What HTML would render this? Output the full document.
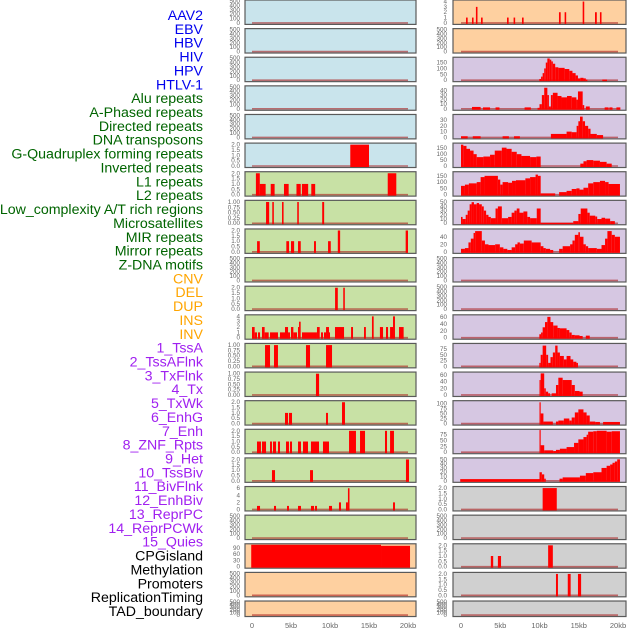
<!DOCTYPE html>
<html><head><meta charset="utf-8"><style>
html,body{margin:0;padding:0;background:#fff;}
svg{display:block;font-family:"Liberation Sans",sans-serif;}
</style></head><body>
<svg id="chart" width="630" height="630" viewBox="0 0 630 630" xmlns="http://www.w3.org/2000/svg"></svg>
<script>
const trackLabels = ["AAV2","EBV","HBV","HIV","HPV","HTLV-1","Alu repeats","A-Phased repeats","Directed repeats","DNA transposons","G-Quadruplex forming repeats","Inverted repeats","L1 repeats","L2 repeats","Low_complexity A/T rich regions","Microsatellites","MIR repeats","Mirror repeats","Z-DNA motifs","CNV","DEL","DUP","INS","INV","1_TssA","2_TssAFlnk","3_TxFlnk","4_Tx","5_TxWk","6_EnhG","7_Enh","8_ZNF_Rpts","9_Het","10_TssBiv","11_BivFlnk","12_EnhBiv","13_ReprPC","14_ReprPCWk","15_Quies","CPGisland","Methylation","Promoters","ReplicationTiming","TAD_boundary"];
const labelGroups = ["virus","virus","virus","virus","virus","virus","rep","rep","rep","rep","rep","rep","rep","rep","rep","rep","rep","rep","rep","sv","sv","sv","sv","sv","cs","cs","cs","cs","cs","cs","cs","cs","cs","cs","cs","cs","cs","cs","cs","oth","oth","oth","oth","oth"];
const xTickValues = [0,5,10,15,20];
const xTickLabels = ["0","5kb","10kb","15kb","20kb"];
const T500 = ["0","100","200","300","400","500"];
const T2 = ["0.0","0.5","1.0","1.5","2.0"];
const T1 = ["0.00","0.25","0.50","0.75","1.00"];
const panelYMax = [500,500,500,500,500,2.05,2.05,1.03,2.05,500,2.05,4.1,1.03,1.03,2.05,2.05,2.05,6.2,500,105,500,500,
  4.1,500,187,48,38,185,175,52,58,500,500,63,95,66,108,94,51,2.05,500,2.05,2.05,500];
const panelTickLabels = [T500,T500,T500,T500,T500,T2,T2,T1,T2,T500,T2,["0","1","2","3","4"],T1,T1,T2,T2,T2,["0","2","4","6"],T500,["0","30","60","90"],T500,T500,
  ["0","1","2","3","4"],T500,["0","50","100","150"],["0","10","20","30","40"],["0","10","20","30"],["0","50","100","150"],["0","50","100","150"],["0","10","20","30","40","50"],["0","20","40"],T500,T500,["0","20","40","60"],["0","25","50","75"],["0","20","40","60"],["0","25","50","75","100"],["0","25","50","75"],["0","10","20","30","40","50"],T2,T500,T2,T2,T500];
// segments: [startKb, endKb, value]
const panelSegments = [
 [],[],[],[],[],
 [[12.6,15.0,2]],
 [[0.5,1.0,2],[1.0,1.75,1],[2.4,2.9,1],[4.1,4.7,1],[5.7,6.25,1],[6.4,7.2,1],[7.6,8.1,1],[17.4,18.5,2]],
 [[1.8,2.2,1],[2.6,2.8,1],[3.85,4.05,1],[5.8,6.0,1],[9.0,9.25,1]],
 [[0.65,1.0,1],[4.4,4.75,1],[5.0,5.4,1],[5.9,6.25,1],[7.95,8.2,1],[9.75,10.1,1],[11.0,11.3,2],[19.7,20.0,2]],
 [],
 [[10.65,11.0,2],[11.7,11.9,2]],
 [[0,0.34,2],[0.34,0.64,1],[0.77,1.03,1],[1.28,1.62,2],[1.62,2.14,1],[2.31,3.33,1],[3.59,4.23,1],[4.23,4.62,2],[4.62,4.87,1],[5.0,5.3,2],[5.3,5.77,1],[5.9,6.03,2],[6.03,6.24,3],[6.41,8.33,1],[8.33,8.68,2],[8.85,9.1,1],[9.23,9.49,1],[9.49,9.87,2],[9.87,10.0,1],[10.64,11.8,2],[12.7,12.95,2],[14.36,14.6,2],[15.38,15.6,4],[16.4,16.8,2],[17.18,17.44,2],[17.7,18.08,2],[18.08,18.33,4],[18.85,19.44,2]],
 [[1.67,2.31,1],[2.82,3.33,1],[6.92,7.44,1],[9.49,10.26,1]],
 [[8.2,8.6,1]],
 [[4.23,4.62,1],[4.74,5.13,1],[9.49,9.74,1],[11.54,11.92,2]],
 [[0.64,1.15,1],[1.28,1.8,1],[2.31,2.56,1],[2.69,3.08,1],[3.33,3.59,1],[4.36,4.74,1],[4.87,5.13,1],[5.9,6.28,1],[6.54,7.18,1],[7.56,8.59,1],[9.1,9.87,1],[12.44,13.33,2],[13.85,14.49,2],[17.05,17.31,2],[17.7,18.2,2]],
 [[2.56,2.95,1],[7.44,7.82,1],[19.74,20.13,2]],
 [[0.64,1.03,1],[2.82,3.08,1],[4.49,4.74,1],[5.9,6.28,1],[7.56,7.95,1],[8.08,8.33,1],[9.87,10.26,1],[11.15,11.41,2],[12.05,12.3,2],[12.3,12.5,6],[18.08,18.33,2]],
 [],
 [[-0.1,16.54,105],[16.54,20.26,100]],
 [],[],
 // right column
 [[0.64,0.85,1],[1.4,1.6,1],[1.9,2.1,3],[2.55,2.76,1],[5.86,6.07,1],[6.7,6.9,1],[7.77,7.98,1],[12.48,12.7,2],[13.2,13.4,2],[15.5,15.7,4],[17.07,17.3,2],[17.7,17.9,2]],
 [],
 [[9.98,10.2,10],[10.2,10.4,30],[10.4,10.6,60],[10.6,10.8,100],[10.8,11.0,150],[11.0,11.3,185],[11.3,11.5,175],[11.5,11.7,160],[11.7,12.0,140],[12.0,12.4,110],[12.4,13.2,105],[13.2,13.8,95],[13.8,14.2,80],[14.2,14.6,60],[14.6,14.9,40],[14.9,15.2,15],[15.2,15.6,20],[15.6,15.9,15],[15.9,16.1,5],[18.0,18.6,5]],
 [[1.4,2.5,4],[2.8,3.7,3],[4.4,4.9,3],[8.1,8.9,3],[9.75,10.0,2],[10.0,10.3,10],[10.3,10.6,30],[10.6,11.0,46],[11.0,11.2,30],[11.2,11.45,5],[11.45,11.7,30],[11.7,12.3,35],[12.3,12.8,28],[12.8,13.5,25],[13.5,14.1,28],[14.1,14.7,25],[14.7,14.9,20],[14.9,15.5,38],[15.5,15.7,8],[15.9,16.4,5],[18.3,18.8,3],[18.9,19.3,3],[19.8,20.3,3]],
 [[0,0.85,2],[1.5,2.5,2],[5.3,6.1,2],[6.75,7.5,2],[11.45,13.45,6],[13.45,14.1,10],[14.1,14.73,9],[14.73,14.95,20],[14.95,15.16,28],[15.16,15.5,36],[15.5,15.8,28],[15.8,16.2,20],[16.2,16.5,15],[16.5,17.3,6],[17.3,18.1,4]],
 [[0,0.3,180],[0.3,0.7,170],[0.7,1.15,145],[1.15,1.6,130],[1.6,2.0,100],[2.0,2.85,75],[2.85,3.7,80],[3.7,4.3,95],[4.3,5.2,130],[5.2,5.8,155],[5.8,6.45,145],[6.45,7.1,120],[7.1,7.7,100],[7.7,8.8,85],[8.8,9.6,75],[9.6,10.15,80],[15.2,15.6,20],[15.6,16.0,40],[16.0,16.85,50],[16.85,17.7,45],[17.7,18.55,35],[18.55,19.2,20]],
 [[0,0.5,70],[0.5,1.0,80],[1.0,2.0,90],[2.0,2.5,100],[2.5,3.0,140],[3.0,4.7,150],[4.7,5.0,120],[5.0,5.3,80],[5.3,6.0,100],[6.0,6.5,95],[6.5,7.0,110],[7.0,8.2,115],[8.2,8.8,130],[8.8,9.5,140],[9.5,9.8,160],[9.8,10.15,150],[10.15,12.0,10],[12.5,13.45,20],[13.45,14.1,30],[14.1,14.7,45],[14.7,15.1,50],[15.1,15.6,40],[15.6,16.2,55],[16.2,16.85,90],[16.85,17.7,100],[17.7,18.35,110],[18.35,18.8,100],[18.8,20.25,85]],
 [[0,0.2,15],[0.2,0.6,10],[0.6,0.85,20],[0.85,1.1,30],[1.1,1.35,45],[1.35,1.65,50],[1.65,2.0,45],[2.0,2.3,48],[2.3,2.65,45],[2.65,2.9,40],[2.9,3.2,30],[3.2,3.5,20],[3.5,3.8,15],[3.8,4.4,12],[4.4,4.7,35],[4.7,5.2,40],[5.2,6.0,12],[6.0,6.45,15],[6.45,6.8,25],[6.8,7.1,30],[7.1,7.45,35],[7.45,7.95,25],[7.95,8.45,28],[8.45,8.8,15],[8.8,9.65,12],[9.65,10.15,35],[10.15,14.3,1],[14.3,14.95,5],[14.95,15.25,22],[15.25,16.1,35],[16.1,16.4,25],[16.4,17.1,18],[17.1,17.35,16],[17.35,17.9,10],[17.9,18.35,13],[18.35,19.0,11],[19.0,19.6,5]],
 [[0,0.5,8],[0.5,0.95,10],[0.95,1.25,25],[1.25,1.6,35],[1.6,1.8,50],[1.8,2.65,55],[2.65,3.05,30],[3.05,3.5,20],[3.5,4.35,18],[4.35,4.95,20],[4.95,5.4,12],[5.4,5.9,8],[5.9,6.45,5],[6.45,6.9,12],[6.9,7.2,20],[7.2,7.5,25],[7.5,8.0,22],[8.0,9.0,30],[9.0,10.15,25],[10.15,10.5,15],[10.5,10.8,10],[10.8,11.35,8],[11.35,11.75,5],[12.5,12.95,8],[12.95,13.9,15],[13.9,14.2,20],[14.2,14.5,30],[14.5,14.95,45],[14.95,15.15,52],[15.15,15.6,40],[15.6,15.9,20],[15.9,16.2,15],[16.2,17.3,10],[17.3,17.9,8],[17.9,18.35,18],[18.35,18.65,35],[18.65,19.2,55],[19.2,19.6,45],[19.6,20.25,40]],
 [],[],
 [[9.98,10.2,10],[10.2,10.4,15],[10.4,10.7,30],[10.7,11.0,45],[11.0,11.4,60],[11.4,11.75,45],[11.75,12.3,35],[12.3,12.6,28],[12.6,13.45,27],[13.45,13.8,22],[13.8,14.1,15],[14.1,14.5,8],[14.5,15.1,7],[15.1,15.5,5],[15.9,16.4,6]],
 [[9.98,10.15,15],[10.15,10.4,50],[10.4,10.85,90],[10.85,11.1,50],[11.1,11.4,15],[11.4,11.7,40],[11.7,12.0,60],[12.0,12.3,90],[12.3,12.6,60],[12.6,13.1,45],[13.1,13.45,30],[13.45,13.95,45],[13.95,14.3,30],[14.3,14.7,20],[14.7,14.9,15]],
 [[10.0,10.15,45],[10.15,10.6,65],[10.6,10.8,20],[10.8,11.1,10],[11.1,11.35,5],[11.55,12.1,5],[12.1,12.4,30],[12.4,12.95,52],[12.95,14.1,45],[14.1,14.5,30],[14.5,15.1,12],[15.1,15.5,10]],
 [[10.0,10.15,105],[10.15,10.5,50],[10.5,11.7,10],[12.1,12.4,10],[12.4,13.1,15],[13.1,13.8,25],[13.8,14.1,15],[14.1,14.5,30],[14.5,14.95,55],[14.95,15.6,70],[15.6,16.0,55],[16.0,16.4,40],[16.4,17.1,10],[17.1,17.7,8],[18.1,20.25,8]],
 [[10.0,10.15,95],[10.15,10.6,30],[10.6,11.75,8],[11.75,12.1,5],[12.1,12.6,10],[12.6,13.45,15],[13.45,14.4,22],[14.4,14.95,40],[14.95,15.6,55],[15.6,16.0,65],[16.0,16.2,75],[16.2,16.85,88],[16.85,17.3,90],[17.3,18.55,92],[18.55,19.2,88],[19.2,20.25,90]],
 [[-0.1,10.0,4],[10.0,10.3,20],[10.3,10.6,15],[10.6,10.8,5],[12.55,12.95,5],[12.95,15.15,8],[15.15,15.9,12],[15.9,16.85,18],[16.85,17.9,20],[17.9,18.55,30],[18.55,19.0,35],[19.0,19.3,38],[19.3,19.6,42],[19.6,19.9,45],[19.9,20.25,50]],
 [[10.4,12.2,2]],
 [],
 [[3.8,4.1,1],[4.7,5.1,1],[11.1,11.7,2]],
 [[12.1,12.35,2],[13.6,13.97,2],[14.9,15.3,2]],
 []
];

const NS = "http://www.w3.org/2000/svg";
const svg = document.getElementById("chart");
function mk(tag, attrs, parent){ const e=document.createElementNS(NS,tag); for(const k in attrs) e.setAttribute(k,attrs[k]); (parent||svg).appendChild(e); return e; }

const groupColor = {virus:"#0000ee",rep:"#006400",sv:"#ffa500",cs:"#a020f0",oth:"#000000"};
trackLabels.forEach((lab,i)=>{
  const t = mk("text",{x:203,y:15+i*13.86+5,"text-anchor":"end","font-size":"14.2",fill:groupColor[labelGroups[i]]});
  t.textContent = lab;
  
  
});

const ROW = 28.62, H = 24.4;
const cols = [{fx:245,fw:171,x0:252,sc:7.8,tx:240},{fx:453,fw:173,x0:461,sc:7.85,tx:447}];
function bgColor(c,r){
  if(c===0){ if(r<6) return "#c9e4ec"; if(r<19) return "#c8e1a5"; return "#fed0a0"; }
  if(r<2) return "#fed0a0"; if(r<17) return "#d6c7e2"; return "#d0d0d0";
}
for(let p=0;p<44;p++){
  const c = p<22?0:1, r = p%22, col = cols[c];
  const top = r*ROW, h = (r===21)?15.5:H;
  const g = mk("g",{});
  
  
  const bg = mk("rect",{x:col.fx,y:top,width:col.fw,height:h,fill:bgColor(c,r),stroke:"#5a5a5a","stroke-width":1.2},g);
  
  
  const y0 = top+h-1.5, ph = h-2.5, ym = panelYMax[p];
  const yS = v => y0 - v/ym*ph;
  const xS = kb => col.x0 + kb*col.sc;
  // y ticks
  const tl = panelTickLabels[p];
  tl.forEach(s=>{
    const v = parseFloat(s);
    const t = mk("text",{x:col.tx,y:yS(v)+2,"text-anchor":"end","font-size":"6.3",fill:"#666"},g);
    t.textContent = s;
    
    
  });
  // baseline
  const bl = mk("line",{x1:xS(0),x2:xS(20),y1:y0,y2:y0,stroke:"rgba(170,30,30,0.6)","stroke-width":1.6},g);
  
  
  panelSegments[p].forEach(sg=>{
    const x1 = xS(sg[0]), x2 = xS(sg[1]), yt = yS(sg[2]);
    const b = mk("rect",{x:x1,y:yt,width:Math.max(0.8,x2-x1),height:y0-yt+1,fill:"#ff0000"},g);
    
    
  });
  if(r===21){
    xTickValues.forEach((v,k)=>{
      const t = mk("text",{x:xS(v),y:628,"text-anchor":"middle","font-size":"7.5",fill:"#666"});
      t.textContent = xTickLabels[k];
      
      
    });
  }
}
</script>
</body></html>
